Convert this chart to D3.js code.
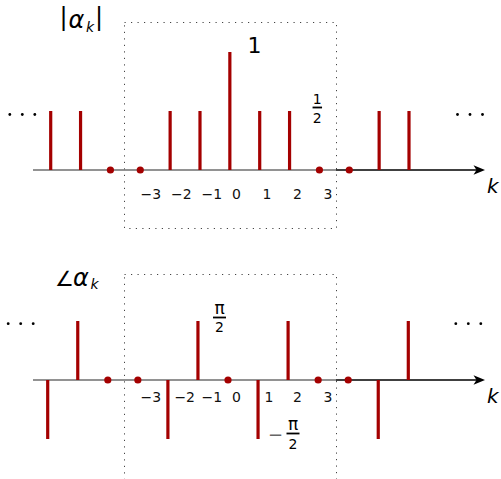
<!DOCTYPE html>
<html>
<head>
<meta charset="utf-8">
<script src="https://cdn.jsdelivr.net/npm/d3@7"></script>
<style>
  body { margin: 0; background: #fff; }
  svg { display: block; font-family: "DejaVu Sans", sans-serif; }
</style>
</head>
<body>
<svg id="chart" width="501" height="479"></svg>
<script>
// harmonic index k and the two spectra
var ks = [-6, -5, -4, -3, -2, -1, 0, 1, 2, 3, 4, 5, 6];
var magnitude = [0.5, 0.5, 0, 0, 0.5, 0.5, 1, 0.5, 0.5, 0, 0, 0.5, 0.5];
// phase, in units of pi/2
var phase = [-1, 1, 0, 0, -1, 1, 0, -1, 1, 0, 0, -1, 1];
var tickKs = [-3, -2, -1, 0, 1, 2, 3];

var stemColor = '#a40000';
var svg = d3.select('#chart');

///////////////////////////////////////////////////////////////////////////////
// SCALES

var xMag = d3.scaleLinear().domain([-6, 6]).range([50.7, 409]);
var yMag = d3.scaleLinear().domain([0, 1]).range([170, 52]);
var xPh = d3.scaleLinear().domain([-6, 6]).range([47.7, 408.3]);
var yPh = d3.scaleLinear().domain([-1, 1]).range([439, 321]);
// tick labels sit a little off the stems, left aligned
var xLabel = d3.scaleLinear().domain([-3, 3]).range([140.5, 323.5]);

function fmtTick(k) {
  return k < 0 ? '\u2212' + (-k) : String(k);
}

///////////////////////////////////////////////////////////////////////////////
// ONE PANEL

function drawPanel(p) {
  var g = svg.append('g');
  var y0 = p.y(0);

  // dotted window around k = -3..3
  g.append('rect')
    .attr('x', 124.5).attr('y', p.boxTop)
    .attr('width', 212).attr('height', 206)
    .style('fill', 'none')
    .style('stroke', '#444')
    .style('stroke-width', 1)
    .style('stroke-dasharray', '1.2,5.3');

  // axis: grey part, black part with arrow
  g.append('line')
    .attr('x1', 33).attr('x2', 336).attr('y1', y0).attr('y2', y0)
    .style('stroke', '#6e6e6e').style('stroke-width', 1.5);
  g.append('line')
    .attr('x1', 336).attr('x2', 478).attr('y1', y0).attr('y2', y0)
    .style('stroke', '#000').style('stroke-width', 1.5);
  g.append('path')
    .attr('d', 'M485,' + y0 + ' L473.5,' + (y0 - 4.8) + ' L476.5,' + y0 + ' L473.5,' + (y0 + 4.8) + ' Z')
    .style('fill', '#000');

  g.append('text')
    .attr('x', 487).attr('y', p.kBase)
    .style('font-size', '20px').style('font-style', 'italic')
    .text('k');

  var data = ks.map(function(k, i) { return {k: k, v: p.values[i]}; });

  g.selectAll('line.stem')
    .data(data.filter(function(d) { return d.v !== 0; }))
    .enter().append('line')
    .attr('class', 'stem')
    .attr('x1', function(d) { return p.x(d.k); })
    .attr('x2', function(d) { return p.x(d.k); })
    .attr('y1', y0)
    .attr('y2', function(d) { return p.y(d.v); })
    .style('stroke', stemColor)
    .style('stroke-width', 3.2);

  g.selectAll('circle.zero')
    .data(data.filter(function(d) { return d.v === 0; }))
    .enter().append('circle')
    .attr('class', 'zero')
    .attr('cx', function(d) { return p.x(d.k); })
    .attr('cy', y0)
    .attr('r', 3.6)
    .style('fill', stemColor);

  // tick labels; pushed right of a downward stem
  g.selectAll('text.tick')
    .data(tickKs)
    .enter().append('text')
    .attr('class', 'tick')
    .attr('x', function(k) {
      var v = p.values[ks.indexOf(k)];
      return v < 0 ? p.x(k) + 6.5 : xLabel(k);
    })
    .attr('y', p.tickBase)
    .style('font-size', '14px')
    .style('fill', '#111')
    .text(fmtTick);

  // ellipses on both sides
  [p.leftDots, p.rightDots].forEach(function(cx) {
    g.selectAll(null)
      .data([-12.5, 0, 12.5])
      .enter().append('circle')
      .attr('cx', function(o) { return cx + o; })
      .attr('cy', p.dotsY)
      .attr('r', 1.4)
      .style('fill', '#000');
  });
  return g;
}

function fraction(g, cx, top, bottom, yTop, yBar, yBottom, w, topSize) {
  g.append('text').attr('x', cx).attr('y', yTop)
    .attr('text-anchor', 'middle').style('font-size', (topSize || 14) + 'px').text(top);
  g.append('line').attr('x1', cx - w / 2).attr('x2', cx + w / 2)
    .attr('y1', yBar).attr('y2', yBar)
    .style('stroke', '#000').style('stroke-width', 1.8);
  g.append('text').attr('x', cx).attr('y', yBottom)
    .attr('text-anchor', 'middle').style('font-size', '14px').text(bottom);
}

///////////////////////////////////////////////////////////////////////////////
// MAGNITUDE

var gMag = drawPanel({
  x: xMag, y: yMag, values: magnitude,
  boxTop: 22.5, tickBase: 198.5, kBase: 193,
  leftDots: 22.3, rightDots: 470, dotsY: 114.5
});

gMag.append('text').attr('x', 59.5).attr('y', 25).style('font-size', '24px').text('|');
gMag.append('text').attr('x', 68.5).attr('y', 28)
  .style('font-size', '24px').style('font-style', 'italic').text('\u03b1');
gMag.append('text').attr('x', 86).attr('y', 31.5)
  .style('font-size', '14px').style('font-style', 'italic').text('k');
gMag.append('text').attr('x', 95).attr('y', 25).style('font-size', '24px').text('|');

gMag.append('text').attr('x', 247.5).attr('y', 52.5).style('font-size', '22px').text('1');
fraction(gMag, 317.3, '1', '2', 104, 107.5, 122.5, 9.5);

///////////////////////////////////////////////////////////////////////////////
// PHASE

var gPh = drawPanel({
  x: xPh, y: yPh, values: phase,
  boxTop: 274.5, tickBase: 401.5, kBase: 403,
  leftDots: 20.7, rightDots: 468.3, dotsY: 323.7
});

gPh.append('text').attr('x', 55).attr('y', 285.5).style('font-size', '21px').text('\u2220');
gPh.append('text').attr('x', 73).attr('y', 285.5)
  .style('font-size', '24px').style('font-style', 'italic').text('\u03b1');
gPh.append('text').attr('x', 90.5).attr('y', 289)
  .style('font-size', '14px').style('font-style', 'italic').text('k');

fraction(gPh, 219.5, '\u03c0', '2', 313.5, 317.5, 331.5, 13, 17);
gPh.append('text').attr('x', 283).attr('y', 441).attr('text-anchor', 'end')
  .style('font-size', '18px').style('fill', '#666').text('\u2212');
fraction(gPh, 293, '\u03c0', '2', 430, 433.5, 449, 13, 17);
</script>
</body>
</html>
